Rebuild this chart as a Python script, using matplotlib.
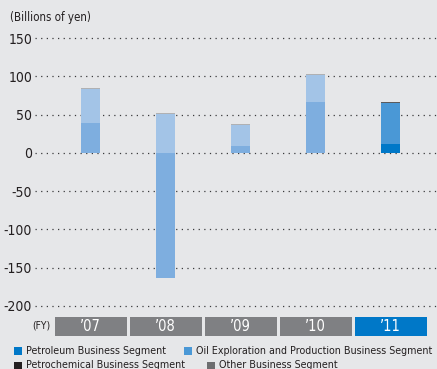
import matplotlib
matplotlib.use("Agg")
import matplotlib.pyplot as plt
import matplotlib.transforms as mtransforms
from matplotlib.patches import Rectangle

# data (billions of yen)
years = ["\u201907", "\u201908", "\u201909", "\u201910", "\u201911"]
petroleum = [39, -163, 9, 66.5, 12]
oil_exploration = [44.5, 51.5, 27.5, 35.5, 53.5]
petrochemical = [0, 0, 0, 0, 0]
other = [1.5, 1, 1.5, 1.5, 1.5]
y_ticks = [150, 100, 50, 0, -50, -100, -150, -200]
legend_labels = [
    "Petroleum Business Segment",
    "Oil Exploration and Production Business Segment",
    "Petrochemical Business Segment",
    "Other Business Segment",
]

BG = "#e6e7e9"
PET, PET_PAST = "#0078c8", "#7eaedf"
OIL, OIL_PAST = "#4a98d6", "#a3c4e7"
CHEM, CHEM_PAST = "#231f20", "#8a8a8c"
OTH, OTH_PAST = "#5b5b5d", "#b0b1b3"
FONT = "DejaVu Sans"
STRETCH = "condensed"

W, H = 437, 369
fig = plt.figure(figsize=(W / 100, H / 100), dpi=100)
fig.patch.set_facecolor(BG)

# axes placed so bar i sits at pixel 90.5 + 75 i
px_per_unit = 0.765
left_px, right_px = 35, 437
top_px = 153 - 154 * px_per_unit
bot_px = 153 + 204 * px_per_unit
ax = fig.add_axes([left_px / W, 1 - bot_px / H, (right_px - left_px) / W, (bot_px - top_px) / H])
ax.set_facecolor(BG)
ax.set_xlim((left_px - 90.5) / 75, (right_px - 90.5) / 75)
ax.set_ylim(-204, 154)

x = list(range(len(years)))
bw = 19 / 75
last = len(years) - 1
for i in x:
    current = i == last
    pos_base = 0.0
    neg_base = 0.0
    segs = [
        (petroleum[i], PET if current else PET_PAST),
        (oil_exploration[i], OIL if current else OIL_PAST),
        (petrochemical[i], CHEM if current else CHEM_PAST),
        (other[i], OTH if current else OTH_PAST),
    ]
    for val, col in segs:
        if val == 0:
            continue
        if val > 0:
            ax.bar(i, val, bottom=pos_base, width=bw, color=col, linewidth=0, zorder=3)
            pos_base += val
        else:
            ax.bar(i, val, bottom=neg_base, width=bw, color=col, linewidth=0, zorder=3)
            neg_base += val

ax.set_xticks([])
ax.set_yticks(y_ticks)
ax.set_yticklabels([str(t) for t in y_ticks], family=FONT, stretch=STRETCH,
                   fontsize=10, color="#231f20")
ax.tick_params(axis="y", length=0, pad=2)
ax.yaxis.grid(True, linestyle=(0, (1, 3.5)), linewidth=0.9, color="#3a3a3c", zorder=1)
for spine in ax.spines.values():
    spine.set_visible(False)

fig.text(10 / W, 1 - 18 / H, "(Billions of yen)", family=FONT, stretch=STRETCH,
         fontsize=8.3, color="#231f20", va="center", ha="left")

# FY boxes under the plot
trans = mtransforms.blended_transform_factory(ax.transData, fig.transFigure)
box_bottom = 1 - 335.7 / H
box_h = 19 / H
for i, label in enumerate(years):
    col = PET if i == last else "#7f8083"
    ax.add_patch(Rectangle((i - 0.48, box_bottom), 0.96, box_h, transform=trans,
                           facecolor=col, edgecolor="none", clip_on=False))
    ax.text(i, box_bottom + box_h / 2, label, transform=trans, ha="center", va="center",
            family=FONT, stretch=STRETCH, fontsize=10.5, color="white", clip_on=False)
fig.text(32 / W, 1 - 325 / H, "(FY)", family=FONT, stretch=STRETCH, fontsize=7.5,
         color="#231f20", va="center", ha="left")

# legend drawn by hand
legend_items = [
    (14, 351, PET, legend_labels[0]),
    (184, 351, OIL, legend_labels[1]),
    (14, 365.5, CHEM, legend_labels[2]),
    (207, 365.5, "#6d6e70", legend_labels[3]),
]
for lx, ly, col, text in legend_items:
    fig.add_artist(Rectangle((lx / W, 1 - (ly + 4) / H), 8 / W, 8 / H,
                             transform=fig.transFigure, facecolor=col, edgecolor="none"))
    fig.text((lx + 12) / W, 1 - ly / H, text, family=FONT, stretch=STRETCH,
             fontsize=7.65, color="#231f20", va="center", ha="left")

fig.savefig("out.png", dpi=100, facecolor=fig.get_facecolor())
